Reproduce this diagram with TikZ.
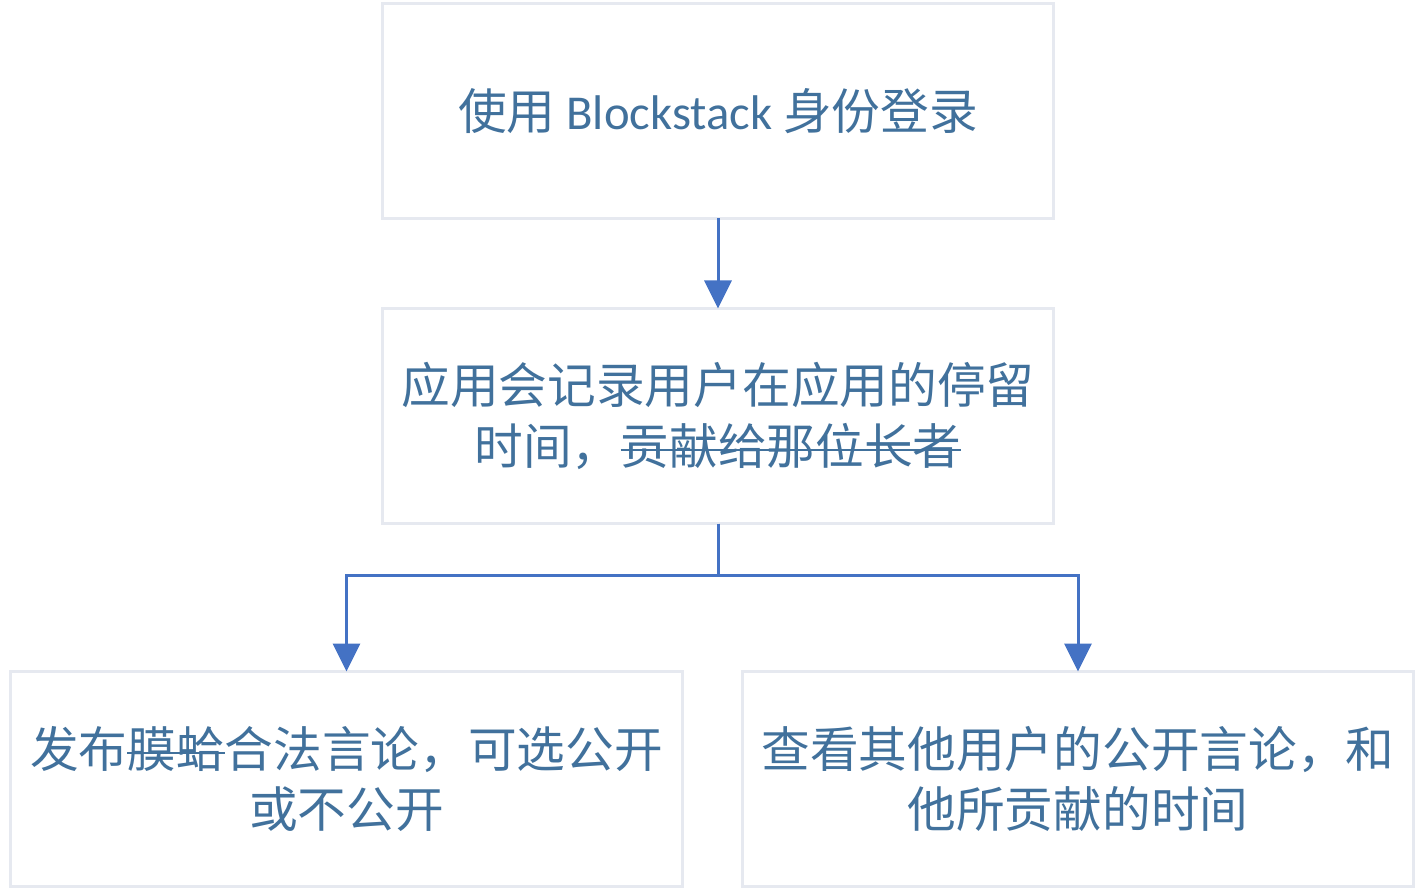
\documentclass[tikz,border=0pt]{standalone}
\usepackage{fontspec}
\setmainfont{Noto Sans CJK SC}
\newfontfamily\latinfont{Carlito}
\usetikzlibrary{positioning, arrows.meta}
\definecolor{textblue}{RGB}{65,113,156}
\definecolor{lineblue}{RGB}{68,114,196}
\definecolor{boxgray}{RGB}{230,233,240}
\newcommand{\strikeout}[1]{\setbox0\hbox{#1}\rlap{\rule[0.27em]{\wd0}{1.1pt}}\box0}

\begin{document}
\begin{tikzpicture}[
  every node/.style={font=\fontsize{27.7}{34.6}\selectfont, align=center, text=textblue},
  box/.style={rectangle, draw=boxgray, line width=0.06cm, fill=white, minimum width=13.42cm, minimum height=4.3cm, inner sep=0pt, outer sep=0pt},
  flow/.style={->, line width=0.06cm, draw=lineblue},
  >={Triangle[length=0.56cm, width=0.54cm]}
]
\useasboundingbox (0,0) rectangle (28.5,-17.82);

% 流程框
\node[box] (login) at (14.36,-2.22) {使用 {\latinfont Blockstack} 身份登录};
\node[box] (record) at (14.36,-8.32) {应用会记录用户在应用的停留\\时间，\strikeout{贡献给那位长者}};
\node[box] (post) at (6.93,-15.58) {发布\strikeout{膜蛤}合法言论，可选公开\\或不公开};
\node[box] (view) at (21.56,-15.58) {查看其他用户的公开言论，和\\他所贡献的时间};

% 连线
\draw[flow] (login) -- (record);
\draw[flow] (record.south) -- ++(0,-1.04) -| (post.north);
\draw[flow] (record.south) -- ++(0,-1.04) -| (view.north);

\end{tikzpicture}
\end{document}
